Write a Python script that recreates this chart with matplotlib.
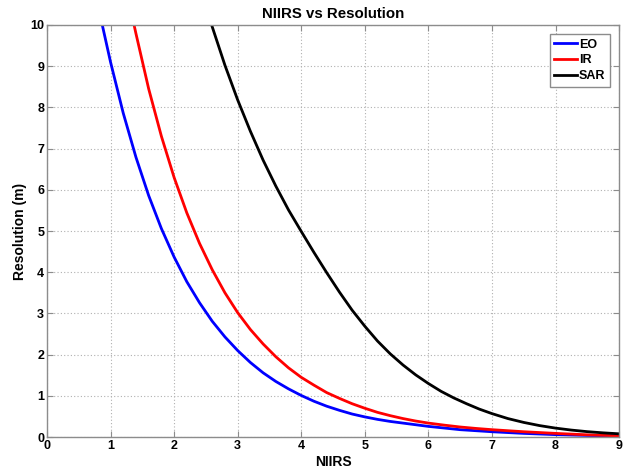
import matplotlib
matplotlib.use("Agg")
import matplotlib.pyplot as plt

# ---------------- DATA ----------------
eo_niirs = [0.87, 1.0, 1.2, 1.4, 1.6, 1.8, 2.0, 2.2, 2.4, 2.6, 2.8, 3.0, 3.2, 3.4,
            3.6, 3.8, 4.0, 4.2, 4.4, 4.6, 4.8, 5.0, 5.2, 5.4, 5.6, 5.8, 6.0,
            6.25, 6.5, 6.75, 7.0, 7.5, 8.0, 8.5, 9.0]
eo_res = [10, 9.1, 7.86, 6.79, 5.86, 5.06, 4.37, 3.77, 3.26, 2.81, 2.43, 2.10, 1.81, 1.56,
          1.35, 1.17, 1.01, 0.87, 0.75, 0.65, 0.56, 0.49, 0.43, 0.38, 0.34, 0.30, 0.26,
          0.22, 0.18, 0.155, 0.13, 0.09, 0.06, 0.04, 0.03]

ir_niirs = [1.37, 1.4, 1.6, 1.8, 2.0, 2.2, 2.4, 2.6, 2.8, 3.0, 3.2, 3.4, 3.6, 3.8,
            4.0, 4.2, 4.4, 4.6, 4.8, 5.0, 5.2, 5.4, 5.6, 5.8, 6.0, 6.25, 6.5,
            6.75, 7.0, 7.5, 8.0, 8.5, 9.0]
ir_res = [10, 9.79, 8.45, 7.30, 6.30, 5.44, 4.70, 4.06, 3.50, 3.02, 2.61, 2.26, 1.95, 1.68,
          1.45, 1.26, 1.08, 0.94, 0.81, 0.70, 0.60, 0.52, 0.45, 0.39, 0.34, 0.29, 0.245,
          0.21, 0.18, 0.13, 0.09, 0.055, 0.03]

sar_niirs = [2.59, 2.8, 3.0, 3.2, 3.4, 3.6, 3.8, 4.0, 4.2, 4.4, 4.6, 4.8, 5.0, 5.2,
             5.4, 5.6, 5.8, 6.0, 6.2, 6.4, 6.6, 6.8, 7.0, 7.25, 7.5, 7.75, 8.0,
             8.25, 8.5, 8.75, 9.0]
sar_res = [10, 9.02, 8.18, 7.42, 6.72, 6.09, 5.51, 4.99, 4.48, 3.99, 3.52, 3.08, 2.69, 2.33,
           2.02, 1.75, 1.51, 1.30, 1.11, 0.95, 0.81, 0.68, 0.57, 0.45, 0.356, 0.279, 0.218,
           0.170, 0.132, 0.103, 0.080]

x_ticks = list(range(0, 10))
y_ticks = list(range(0, 11))

# ---------------- PLOT ----------------
plt.rcParams["font.family"] = ["Liberation Sans", "DejaVu Sans"]
plt.rcParams["font.weight"] = "bold"

fig = plt.figure(figsize=(6.26, 4.70), dpi=100)
ax = fig.add_axes([0.075, 0.070, 0.914, 0.877])

ax.plot(eo_niirs, eo_res, color="#0000ff", lw=2, label="EO")
ax.plot(ir_niirs, ir_res, color="#ff0000", lw=2, label="IR")
ax.plot(sar_niirs, sar_res, color="#000000", lw=2, label="SAR")

ax.set_xlim(0, 9)
ax.set_ylim(0, 10)
ax.set_xticks(x_ticks)
ax.set_yticks(y_ticks)
ax.grid(True, linestyle=(0, (1, 2)), color="#b0b0b0", linewidth=0.8)

for s in ax.spines.values():
    s.set_color("#8c8c8c")
    s.set_linewidth(1.0)
ax.tick_params(direction="in", length=4, color="#8c8c8c", labelsize=9,
               top=True, right=True, pad=2)
for lbl in ax.get_xticklabels() + ax.get_yticklabels():
    lbl.set_fontweight("bold")

ax.set_title("NIIRS vs Resolution", fontsize=10.8, fontweight="bold", pad=5)
ax.set_xlabel("NIIRS", fontsize=10, fontweight="bold", labelpad=2)
ax.set_ylabel("Resolution (m)", fontsize=10, fontweight="bold", labelpad=2)

leg = ax.legend(loc="upper right", fontsize=9, handlelength=1.85, handletextpad=0.15,
                borderpad=0.35, labelspacing=0.3, fancybox=False, framealpha=1,
                borderaxespad=0.75)
leg.get_frame().set_edgecolor("#8c8c8c")
for t in leg.get_texts():
    t.set_fontweight("bold")

fig.savefig("out.png", dpi=100)
